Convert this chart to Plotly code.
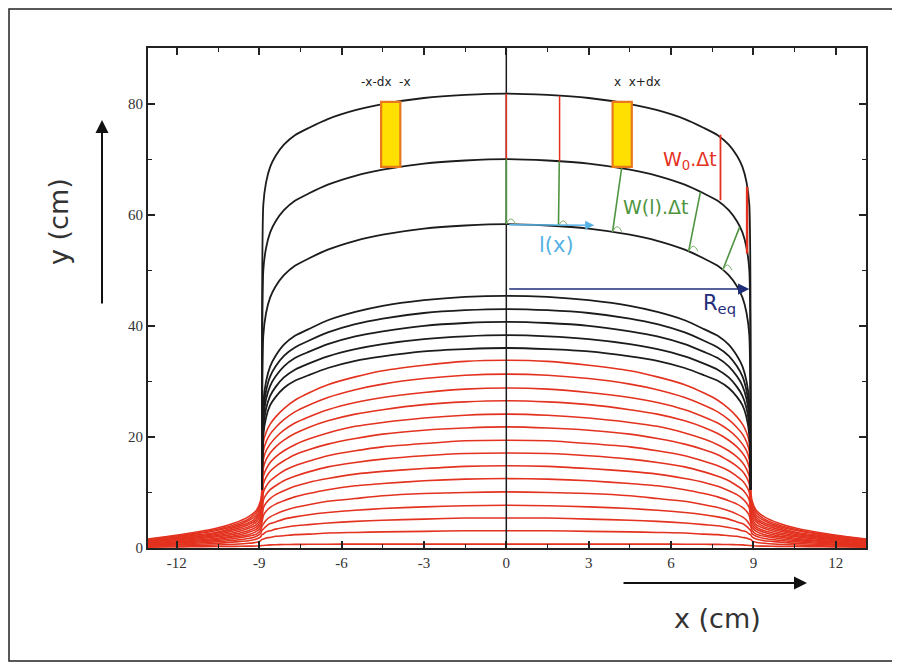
import plotly.graph_objects as go

# ---------------- data (right half; mirrored for the left) -------------
X_HALF = [0, 1.5, 3, 4.5, 5.5, 6.5, 7.2, 7.7, 8.1, 8.4, 8.6, 8.75, 8.85,
          8.9, 8.95, 9.1, 9.4, 9.9, 10.6, 11.5, 12.3, 13.1]

# upper (black) profiles: cap values + foot of the vertical wall
BLACK_1 = [81.8, 81.55, 81.0, 79.9, 78.8, 77.2, 75.6, 74.3, 72.6, 70.6, 68.6, 65.8, 61.8, 10.5]
BLACK_2 = [70.0, 69.75, 69.2, 68.1, 67.0, 65.4, 63.8, 62.5, 60.8, 58.8, 56.8, 54.0, 50.0, 10.5]
BLACK_3 = [58.3, 58.05, 57.5, 56.4, 55.3, 53.7, 52.1, 50.8, 49.1, 47.1, 45.1, 42.3, 38.3, 10.5]
BLACK_4 = [45.4, 45.2, 44.6, 43.6, 42.5, 41.0, 39.4, 38.2, 36.6, 34.6, 32.7, 30.0, 26.2, 10.5]
BLACK_5 = [43.0, 42.8, 42.3, 41.3, 40.3, 38.8, 37.3, 36.1, 34.6, 32.7, 30.9, 28.3, 24.7, 10.5]
BLACK_6 = [40.7, 40.5, 40.0, 39.0, 38.1, 36.7, 35.3, 34.2, 32.7, 30.9, 29.2, 26.8, 23.3, 10.5]
BLACK_7 = [38.3, 38.1, 37.6, 36.7, 35.8, 34.5, 33.2, 32.1, 30.7, 29.0, 27.4, 25.1, 21.7, 10.5]
BLACK_8 = [36.0, 35.8, 35.4, 34.5, 33.7, 32.4, 31.1, 30.1, 28.8, 27.2, 25.7, 23.5, 20.3, 10.5]

# lower (red) profiles: cap values + tail values
RED_14 = [33.8, 33.6, 32.9, 31.9, 30.8, 29.4, 27.9, 26.6, 25.1, 23.6, 22.3, 20.8, 19.0,
          10.5, 8.5, 6.8, 5.6, 4.5, 3.5, 2.7, 2.1, 1.6]
RED_13 = [31.3, 31.1, 30.5, 29.5, 28.5, 27.1, 25.7, 24.5, 23.1, 21.7, 20.5, 19.1, 17.4,
          9.8, 8.0, 6.4, 5.2, 4.2, 3.3, 2.5, 2.0, 1.5]
RED_12 = [28.8, 28.6, 28.0, 27.1, 26.2, 24.9, 23.6, 22.5, 21.2, 19.9, 18.7, 17.5, 15.9,
          9.2, 7.4, 5.9, 4.9, 3.9, 3.1, 2.4, 1.8, 1.4]
RED_11 = [26.5, 26.3, 25.8, 24.9, 24.1, 22.9, 21.7, 20.6, 19.4, 18.2, 17.1, 15.9, 14.4,
          8.5, 6.9, 5.5, 4.5, 3.7, 2.8, 2.2, 1.7, 1.3]
RED_10 = [24.1, 23.9, 23.4, 22.6, 21.9, 20.7, 19.6, 18.6, 17.5, 16.4, 15.4, 14.2, 12.9,
          7.9, 6.4, 5.1, 4.2, 3.4, 2.6, 2.0, 1.6, 1.2]
RED_9 = [21.8, 21.6, 21.2, 20.5, 19.7, 18.7, 17.7, 16.8, 15.7, 14.7, 13.8, 12.7, 11.5,
         7.2, 5.8, 4.7, 3.8, 3.1, 2.4, 1.9, 1.4, 1.1]
RED_8 = [19.4, 19.3, 18.8, 18.2, 17.5, 16.6, 15.6, 14.8, 13.9, 12.9, 12.1, 11.1, 10.0,
         6.5, 5.3, 4.2, 3.5, 2.8, 2.2, 1.7, 1.3, 1.0]
RED_7 = [17.1, 17.0, 16.6, 16.0, 15.4, 14.6, 13.7, 12.9, 12.1, 11.2, 10.5, 9.6, 8.6,
         5.9, 4.8, 3.8, 3.1, 2.5, 2.0, 1.5, 1.2, 0.9]
RED_6 = [14.8, 14.7, 14.3, 13.8, 13.3, 12.5, 11.8, 11.1, 10.3, 9.6, 8.9, 8.1, 7.2,
         5.2, 4.2, 3.4, 2.8, 2.2, 1.7, 1.3, 1.0, 0.8]
RED_5 = [12.5, 12.4, 12.1, 11.6, 11.2, 10.5, 9.8, 9.2, 8.5, 7.9, 7.3, 6.6, 5.8,
         4.6, 3.7, 3.0, 2.4, 2.0, 1.5, 1.2, 0.9, 0.7]
RED_4 = [10.1, 10.0, 9.8, 9.4, 8.9, 8.4, 7.8, 7.3, 6.7, 6.1, 5.6, 5.0, 4.3,
         3.9, 3.2, 2.5, 2.1, 1.7, 1.3, 1.0, 0.8, 0.6]
RED_3 = [7.7, 7.6, 7.4, 7.1, 6.8, 6.4, 6.0, 5.6, 5.2, 4.7, 4.4, 3.9, 3.4,
         3.2, 2.6, 2.1, 1.7, 1.4, 1.1, 0.8, 0.65, 0.5]
RED_2 = [5.4, 5.4, 5.2, 5.0, 4.8, 4.5, 4.2, 4.0, 3.7, 3.4, 3.1, 2.9, 2.5,
         2.4, 2.0, 1.6, 1.3, 1.1, 0.8, 0.64, 0.5, 0.38]
RED_1 = [3.1, 3.1, 3.0, 2.9, 2.8, 2.7, 2.5, 2.4, 2.2, 2.1, 1.9, 1.8, 1.6,
         1.55, 1.29, 1.03, 0.85, 0.68, 0.53, 0.41, 0.32, 0.24]
RED_0 = [0.7, 0.7, 0.7, 0.7, 0.7, 0.68, 0.67, 0.65, 0.62, 0.59, 0.56, 0.5, 0.45,
         0.44, 0.4, 0.36, 0.33, 0.3, 0.26, 0.22, 0.19, 0.16]

BLACK_CURVES = [BLACK_1, BLACK_2, BLACK_3, BLACK_4, BLACK_5, BLACK_6, BLACK_7, BLACK_8]
RED_CURVES = [RED_0, RED_1, RED_2, RED_3, RED_4, RED_5, RED_6, RED_7, RED_8, RED_9,
              RED_10, RED_11, RED_12, RED_13, RED_14]

X_TICKS = [-12, -9, -6, -3, 0, 3, 6, 9, 12]
Y_TICKS = [0, 20, 40, 60, 80]

RED = "#e3321f"
BLACK = "#1c1c1c"
GREEN = "#4f9440"
LBLUE = "#56b2e3"
NAVY = "#1f2d78"

# plot area in window pixels: x 148..866, y 48..548 (page body has an 8px margin)
PL, PW, PB, PH = 148, 718, 548, 500


def px(v):
    return (v - PL) / PW


def py(v):
    return (PB - v) / PH


def mirrored(ys):
    n = len(ys)
    xs = X_HALF[:n]
    x_full = [-v for v in reversed(xs[1:])] + list(xs)
    y_full = list(reversed(ys[1:])) + list(ys)
    return x_full, y_full


fig = go.Figure()

for ys in RED_CURVES:
    xf, yf = mirrored(ys)
    fig.add_trace(go.Scatter(x=xf, y=yf, mode="lines",
                             line=dict(color=RED, width=1.6, shape="spline", smoothing=0.6),
                             hoverinfo="skip", showlegend=False))

for ys in BLACK_CURVES:
    xf, yf = mirrored(ys)
    fig.add_trace(go.Scatter(x=xf, y=yf, mode="lines",
                             line=dict(color=BLACK, width=1.8, shape="spline", smoothing=0.6),
                             hoverinfo="skip", showlegend=False))

shapes = []
# central vertical line
shapes.append(dict(type="line", xref="x", yref="y", x0=0, x1=0, y0=0, y1=90,
                   line=dict(color=BLACK, width=1.5)))
# red W0 segments
for (xa, ya, xb, yb, w) in [(0, 81.8, 0, 70.0, 1.5), (1.94, 81.4, 1.94, 69.6, 1.5),
                            (7.8, 74.4, 7.8, 62.6, 1.8), (8.77, 65.0, 8.77, 53.0, 2.5)]:
    shapes.append(dict(type="line", xref="x", yref="y", x0=xa, y0=ya, x1=xb, y1=yb,
                       line=dict(color=RED, width=w)))
# green W(l) normals
for (xa, ya, xb, yb) in [(0, 70.0, 0, 58.3), (1.93, 69.6, 1.9, 57.95),
                         (4.2, 68.4, 3.87, 56.9), (7.07, 64.1, 6.64, 53.4),
                         (8.5, 57.8, 7.88, 50.0)]:
    shapes.append(dict(type="line", xref="x", yref="y", x0=xa, y0=ya, x1=xb, y1=yb,
                       line=dict(color=GREEN, width=1.6)))
# small right-angle arcs
for (xa, ya) in [(0.0, 58.3), (1.9, 57.95), (3.87, 56.9), (6.64, 53.4), (7.88, 50.0)]:
    shapes.append(dict(type="path", xref="x", yref="y",
                       path=f"M {xa},{ya} Q {xa+0.17},{ya+1.9} {xa+0.34},{ya}",
                       line=dict(color="#7fb36a", width=1)))
# yellow slabs
for (xa, xb) in [(-4.56, -3.86), (3.87, 4.57)]:
    shapes.append(dict(type="rect", xref="x", yref="y", x0=xa, x1=xb, y0=68.6, y1=80.3,
                       fillcolor="#ffe000", line=dict(color="#e8781c", width=2.2)))
# outer frame
shapes.append(dict(type="rect", xref="paper", yref="paper",
                   x0=px(9), x1=px(895), y0=py(661), y1=py(9),
                   line=dict(color="#222222", width=1.5)))

annotations = []
# l(x) arrow
annotations.append(dict(x=3.2, y=58.1, ax=0.05, ay=58.2, xref="x", yref="y",
                        axref="x", ayref="y", text="", showarrow=True,
                        arrowhead=2, arrowsize=1.2, arrowwidth=1.5, arrowcolor=LBLUE))
# R_eq arrow
annotations.append(dict(x=8.85, y=46.6, ax=0.05, ay=46.6, xref="x", yref="y",
                        axref="x", ayref="y", text="", showarrow=True,
                        arrowhead=2, arrowsize=1.5, arrowwidth=1.5, arrowcolor=NAVY))
# y arrow
annotations.append(dict(x=px(102), y=py(120), xref="paper", yref="paper",
                        ax=0, ay=185, text="", showarrow=True, arrowhead=2,
                        arrowsize=1.3, arrowwidth=2, arrowcolor="#111111"))
# x arrow
annotations.append(dict(x=px(807), y=py(583), xref="paper", yref="paper",
                        ax=-185, ay=0, text="", showarrow=True, arrowhead=2,
                        arrowsize=1.3, arrowwidth=2, arrowcolor="#111111"))

sans = "DejaVu Sans"
annotations += [
    dict(x=1.83, y=54.5, xref="x", yref="y", text="l(x)", showarrow=False,
         font=dict(family=sans, size=21, color=LBLUE)),
    dict(x=7.75, y=44.0, xref="x", yref="y", text="R<sub>eq</sub>", showarrow=False,
         font=dict(family=sans, size=21, color=NAVY)),
    dict(x=6.7, y=69.8, xref="x", yref="y", text="W<sub>0</sub>.Δt", showarrow=False,
         font=dict(family=sans, size=19, color=RED)),
    dict(x=5.45, y=61.4, xref="x", yref="y", text="W(l).Δt", showarrow=False,
         font=dict(family=sans, size=19, color=GREEN)),
    dict(x=-4.37, y=83.9, xref="x", yref="y", text="-x-dx  -x", showarrow=False,
         font=dict(family=sans, size=12, color="#222222")),
    dict(x=4.79, y=83.9, xref="x", yref="y", text="x  x+dx", showarrow=False,
         font=dict(family=sans, size=12, color="#222222")),
    dict(x=px(58), y=py(222), xref="paper", yref="paper", xanchor="center", yanchor="middle",
         text="y (cm)", textangle=-90, showarrow=False,
         font=dict(family=sans, size=27, color="#333333")),
    dict(x=px(717), y=py(618), xref="paper", yref="paper", xanchor="center", yanchor="middle",
         text="x (cm)", showarrow=False,
         font=dict(family=sans, size=27, color="#333333")),
]

tickfont = dict(family="Liberation Serif", size=15, color="#333333")
fig.update_layout(
    width=892, height=658, autosize=False,
    margin=dict(l=140, r=34, t=40, b=118),
    paper_bgcolor="white", plot_bgcolor="white",
    shapes=shapes, annotations=annotations,
    xaxis=dict(range=[-13.05, 13.1], tickmode="array", tickvals=X_TICKS,
               ticktext=[str(v) for v in X_TICKS], ticks="inside", ticklen=7, tickwidth=1.5,
               tickcolor="#222222", showline=True, linecolor="#222222", linewidth=2,
               mirror="allticks", showgrid=False, zeroline=False, tickfont=tickfont,
               minor=dict(dtick=1.5, tick0=0, ticks="inside", ticklen=4, tickcolor="#222222",
                          tickwidth=1.2, showgrid=False)),
    yaxis=dict(range=[0, 90], tickmode="array", tickvals=Y_TICKS,
               ticktext=[str(v) for v in Y_TICKS], ticks="inside", ticklen=7, tickwidth=1.5,
               tickcolor="#222222", showline=True, linecolor="#222222", linewidth=2,
               mirror="allticks", showgrid=False, zeroline=False, tickfont=tickfont,
               minor=dict(dtick=10, tick0=0, ticks="inside", ticklen=4, tickcolor="#222222",
                          tickwidth=1.2, showgrid=False)),
)

fig.write_html("out.html")
